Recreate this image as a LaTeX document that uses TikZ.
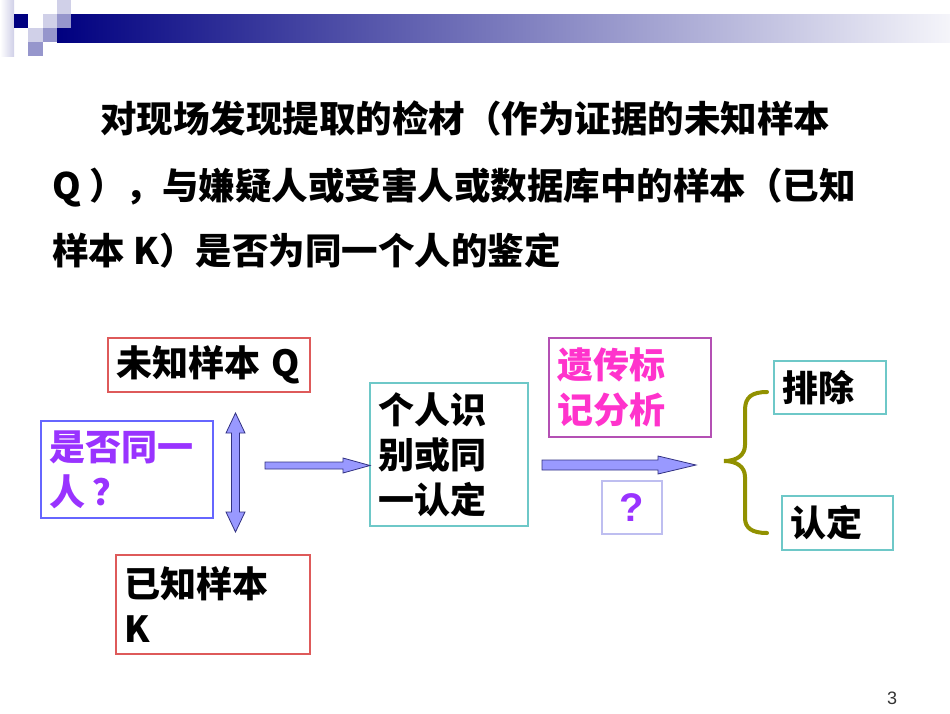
\documentclass[tikz,border=0pt]{standalone}
\usepackage{fontspec}
\newfontfamily\cjk{Noto Sans CJK SC}
\newfontfamily\arial{Liberation Sans}
\definecolor{navy}{RGB}{0,0,128}
\definecolor{lav1}{RGB}{208,208,232}
\definecolor{lav2}{RGB}{150,150,204}
\definecolor{redb}{RGB}{222,90,90}
\definecolor{blueb}{RGB}{102,102,255}
\definecolor{tealb}{RGB}{110,200,200}
\definecolor{magb}{RGB}{180,80,180}
\definecolor{qb}{RGB}{190,190,240}
\definecolor{purpt}{RGB}{153,51,255}
\definecolor{magt}{RGB}{255,51,204}
\definecolor{arrfill}{RGB}{153,153,255}
\definecolor{arrline}{RGB}{50,50,130}
\definecolor{olive}{RGB}{145,145,0}
\begin{document}
\begin{tikzpicture}[x=1pt,y=-1pt,
  box/.style={draw, line width=1.3pt, inner xsep=8pt, inner ysep=0pt, align=left,
    font=\cjk\bfseries\fontsize{36}{45}\selectfont, anchor=center},
  bodytext/.style={inner sep=0pt, anchor=base west, font=\cjk\bfseries\fontsize{36.5}{40}\selectfont},
  arr/.style={fill=arrfill, draw=arrline, line width=0.8pt, line join=miter},
  bracestyle/.style={draw=olive, line width=4pt, line cap=round}]
\useasboundingbox (0,0) rectangle (950,713);
% header
\shade[left color=navy, right color=white!96!navy] (57,14) rectangle (950,42);
\shade[left color=white, right color=lav1] (0,0) rectangle (14,56);
\fill[lav1] (57,0) rectangle (71,14);
\fill[navy] (14,14) rectangle (28,28);
\fill[lav1] (43,14) rectangle (57,28);
\fill[lav2] (57,14) rectangle (71,28);
\fill[lav1] (28,28) rectangle (43,42);
\fill[lav2] (43,28) rectangle (57,42);
\fill[lav2] (28,42) rectangle (43,56);
% body text
\node[bodytext] (l1) at (100,132) {对现场发现提取的检材（作为证据的未知样本};
\node[bodytext] (l2) at (52,199) {Q ），与嫌疑人或受害人或数据库中的样本（已知};
\node[bodytext] (l3) at (52,264) {样本 K）是否为同一个人的鉴定};
% boxes
\node[box, draw=redb, minimum width=202pt, minimum height=54pt, text width=186pt] (q) at (209,365) {未知样本 Q};
\node[box, draw=blueb, text=purpt, minimum width=172pt, minimum height=97pt, text width=156pt] (same) at (127,469.5) {是否同一\\人\hspace{8pt}？};
\node[box, draw=redb, minimum width=194pt, minimum height=99pt, text width=178pt] (k) at (213,604.5) {已知样本\\K};
\node[box, draw=tealb, minimum width=158pt, minimum height=143pt, text width=142pt] (ind) at (449,454.5) {个人识\\别或同\\一认定};
\node[box, draw=magb, text=magt, minimum width=162pt, minimum height=99pt, text width=146pt] (gen) at (630,387.5) {遗传标\\记分析};
\node[box, draw=qb, text=purpt, minimum width=60pt, minimum height=53pt, align=center, text width=44pt, font=\arial\bfseries\fontsize{40}{44}\selectfont] (qm) at (632,507.5) {?};
\node[box, draw=tealb, minimum width=112pt, minimum height=53pt, text width=96pt] (excl) at (830,387.5) {排除};
\node[box, draw=tealb, minimum width=111pt, minimum height=54pt, text width=95pt] (conf) at (837.5,523) {认定};
% arrows
\filldraw[arr] (235.5,413) -- (245,433) -- (239.5,433) -- (239.5,512) -- (245,512) -- (235.5,532) -- (226,512) -- (231.5,512) -- (231.5,433) -- (226,433) -- cycle;
\filldraw[arr] (265,462) -- (343,462) -- (343,458) -- (370,465.5) -- (343,473) -- (343,469) -- (265,469) -- cycle;
\filldraw[arr] (542,460) -- (658,460) -- (658,456) -- (696,465) -- (658,474) -- (658,470) -- (542,470) -- cycle;
% brace
\draw[bracestyle] (767,392) .. controls (752,392) and (745,397) .. (745,410) -- (745,445) .. controls (745,455) and (737,461) .. (724,461) .. controls (737,461) and (745,467) .. (745,477) -- (745,518) .. controls (745,528) and (752,533) .. (767,533);
% page number
\node[inner sep=0pt, font=\arial\fontsize{18}{20}\selectfont, text=black!80] (pn) at (892,698) {3};
\end{tikzpicture}
\end{document}
